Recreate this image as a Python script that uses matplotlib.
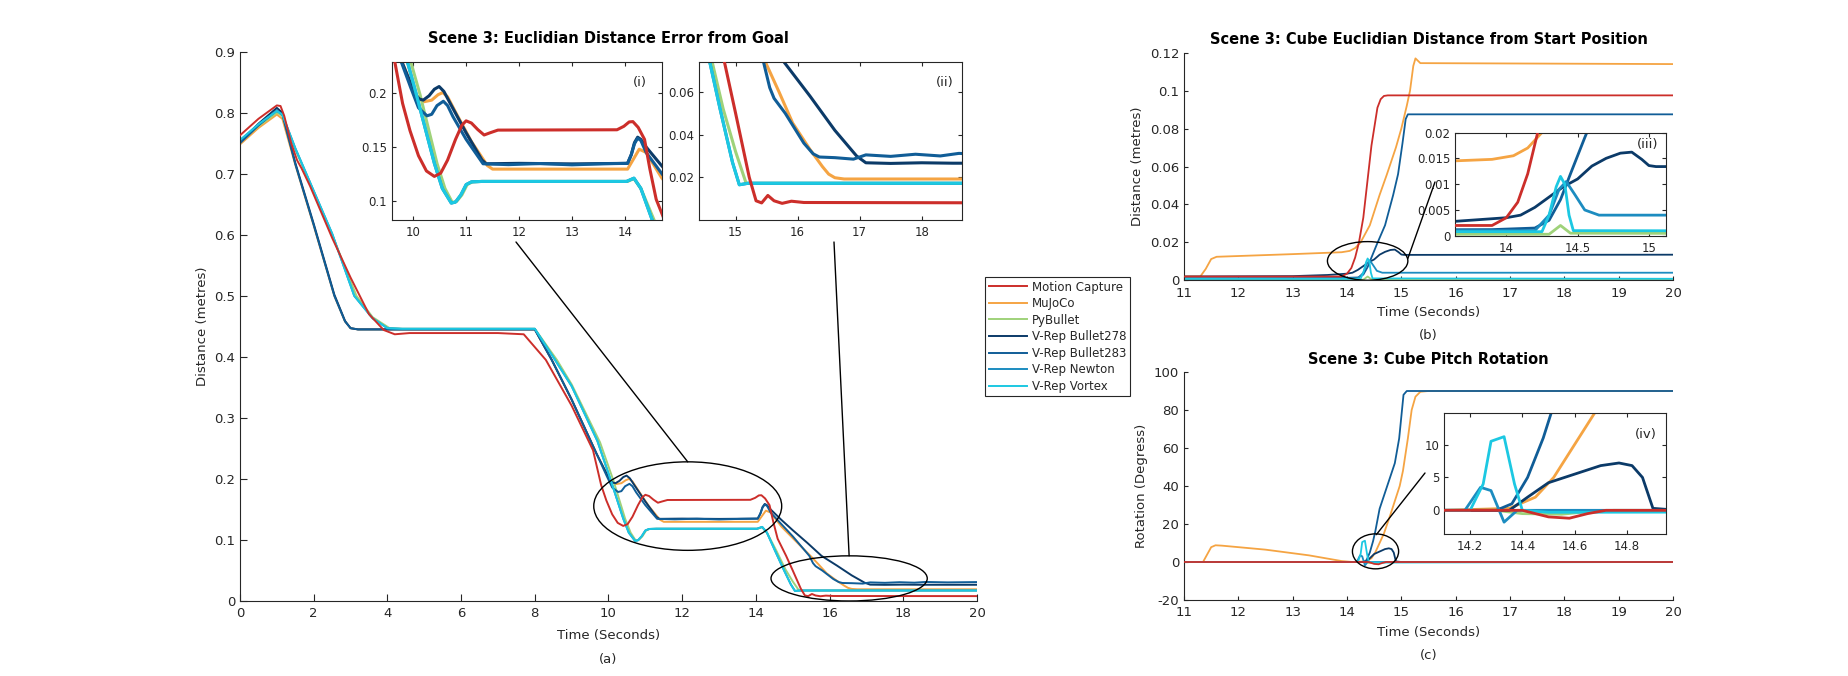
import matplotlib
matplotlib.use('Agg')
import matplotlib.pyplot as plt
from matplotlib.patches import Ellipse, ConnectionPatch

# ---------------- data ----------------
SERIES = ['Motion Capture', 'MuJoCo', 'PyBullet', 'V-Rep Bullet278',
          'V-Rep Bullet283', 'V-Rep Newton', 'V-Rep Vortex']
COLORS = ['#cc2e2a', '#f5a443', '#9fd27a', '#0b3a68', '#105d97', '#1c8cc0', '#1cc8e2']

# (a) Euclidian distance error from goal
MOCAP_A_T = [0, 0.5, 1.0, 1.1, 1.2, 1.39, 1.55, 1.67, 1.9, 2.5, 3.0, 3.5, 3.9, 4.2, 4.6, 7.0, 7.7,
             8.3, 9.0, 9.58, 9.8, 9.94, 10.1, 10.25, 10.4, 10.52, 10.65, 10.8, 10.92, 11.0, 11.1,
             11.22, 11.34, 11.45, 11.6, 13.85, 13.98, 14.08, 14.15, 14.25, 14.37, 14.47, 14.59,
             14.82, 15.0, 15.22, 15.33, 15.42, 15.52, 15.62, 15.75, 15.9, 16.1, 20]
MOCAP_A_V = [0.763, 0.790, 0.812, 0.811, 0.795, 0.750, 0.722, 0.709, 0.680, 0.595, 0.530, 0.470,
             0.444, 0.437, 0.439, 0.439, 0.437, 0.395, 0.320, 0.247, 0.190, 0.165, 0.142, 0.128,
             0.123, 0.126, 0.138, 0.157, 0.170, 0.174, 0.172, 0.166, 0.161, 0.163, 0.1655,
             0.1658, 0.169, 0.173, 0.1733, 0.168, 0.157, 0.130, 0.102, 0.074, 0.050, 0.020,
             0.009, 0.008, 0.0115, 0.009, 0.0078, 0.0088, 0.0082, 0.008]

MUJOCO_A_T = [0, 0.5, 1.0, 1.15, 1.5, 2.0, 2.56, 2.85, 3.0, 3.2, 8.0, 8.46, 9.0, 9.67, 10.04,
              10.2, 10.35, 10.47, 10.56, 10.65, 10.8, 11.1, 11.4, 11.5, 14.05, 14.15, 14.27,
              14.4, 14.69, 15.0, 15.48, 15.7, 15.92, 16.2, 16.4, 16.5, 16.6, 16.75, 20]
MUJOCO_A_V = [0.748, 0.775, 0.797, 0.790, 0.715, 0.615, 0.500, 0.458, 0.447, 0.445, 0.445,
              0.395, 0.330, 0.242, 0.198, 0.1915, 0.193, 0.198, 0.200, 0.196, 0.182, 0.155,
              0.133, 0.1297, 0.1297, 0.138, 0.148, 0.145, 0.122, 0.103, 0.074, 0.060, 0.0454,
              0.033, 0.025, 0.0215, 0.0198, 0.0192, 0.0192]

PYBULLET_A_T = [0, 0.5, 1.0, 1.15, 1.5, 2.0, 2.5, 3.16, 3.6, 4.06, 4.4, 8.0, 8.6, 9.0, 9.77,
                10.13, 10.45, 10.6, 10.74, 10.82, 10.92, 11.02, 11.12, 11.3, 14.05, 14.17, 14.3,
                14.55, 14.8, 15.0, 15.17, 15.3, 20]
PYBULLET_A_V = [0.752, 0.778, 0.800, 0.795, 0.740, 0.670, 0.600, 0.500, 0.465, 0.447, 0.446,
                0.446, 0.395, 0.355, 0.260, 0.198, 0.135, 0.112, 0.099, 0.100, 0.106, 0.1155,
                0.118, 0.1184, 0.1184, 0.121, 0.112, 0.083, 0.052, 0.032, 0.0172, 0.0172, 0.0172]

BULLET278_A_T = [0, 0.5, 1.0, 1.15, 1.5, 2.0, 2.56, 2.85, 3.0, 3.2, 8.0, 8.46, 9.0, 9.67, 10.04,
                 10.12, 10.19, 10.3, 10.4, 10.49, 10.58, 10.7, 11.0, 11.3, 11.38, 12.0, 13.0,
                 14.05, 14.12, 14.18, 14.24, 14.3, 14.4, 14.69, 15.0, 15.4, 15.78, 16.2, 16.6,
                 16.95, 17.1, 17.5, 18.0, 18.5, 20]
BULLET278_A_V = [0.752, 0.782, 0.808, 0.800, 0.718, 0.618, 0.502, 0.459, 0.447, 0.445, 0.445,
                 0.395, 0.330, 0.242, 0.198, 0.194, 0.193, 0.197, 0.203, 0.2055, 0.201, 0.190,
                 0.163, 0.138, 0.1346, 0.135, 0.1345, 0.135, 0.143, 0.154, 0.159, 0.157, 0.150,
                 0.133, 0.116, 0.095, 0.074, 0.058, 0.042, 0.030, 0.0268, 0.0265, 0.0268,
                 0.0266, 0.0266]

BULLET283_A_T = [0, 0.5, 1.0, 1.15, 1.5, 2.0, 2.56, 2.85, 3.0, 3.2, 8.0, 8.46, 9.0, 9.67, 9.95,
                 10.1, 10.26, 10.35, 10.45, 10.57, 10.65, 10.75, 11.0, 11.32, 11.8, 12.4, 13.0,
                 13.6, 14.05, 14.12, 14.18, 14.24, 14.3, 14.4, 14.69, 15.0, 15.45, 15.55, 15.62,
                 15.8, 15.95, 16.1, 16.25, 16.35, 16.6, 16.9, 17.1, 17.5, 17.9, 18.3, 18.6,
                 19.2, 20]
BULLET283_A_V = [0.750, 0.779, 0.804, 0.797, 0.716, 0.616, 0.500, 0.458, 0.447, 0.445, 0.445,
                 0.395, 0.330, 0.242, 0.205, 0.186, 0.1786, 0.180, 0.188, 0.192, 0.188, 0.178,
                 0.157, 0.1346, 0.1338, 0.1348, 0.1336, 0.1346, 0.135, 0.143, 0.153, 0.158,
                 0.156, 0.145, 0.126, 0.106, 0.074, 0.062, 0.057, 0.050, 0.043, 0.036, 0.031,
                 0.0295, 0.0292, 0.0285, 0.0305, 0.0298, 0.0308, 0.0300, 0.0312, 0.0305, 0.031]

VORTEX_A_T = [0, 0.5, 1.0, 1.15, 1.5, 2.0, 2.5, 3.1, 3.6, 4.0, 4.4, 8.0, 8.55, 9.0, 9.7, 10.05,
              10.4, 10.55, 10.72, 10.8, 10.9, 11.0, 11.1, 11.3, 14.03, 14.17, 14.3, 14.5, 14.75,
              14.95, 15.06, 15.2, 20]
VORTEX_A_V = [0.755, 0.781, 0.803, 0.797, 0.742, 0.672, 0.602, 0.500, 0.463, 0.447, 0.446,
              0.446, 0.395, 0.352, 0.262, 0.200, 0.135, 0.112, 0.0985, 0.0995, 0.106, 0.1155,
              0.118, 0.1184, 0.1184, 0.1214, 0.112, 0.085, 0.052, 0.027, 0.0165, 0.0172, 0.0172]
NEWTON_A_T = VORTEX_A_T
NEWTON_A_V = VORTEX_A_V

# (b) cube euclidian distance from start position
MOCAP_B_T = [11, 13.9, 14.0, 14.08, 14.15, 14.22, 14.3, 14.45, 14.56, 14.62, 14.68, 14.75, 20]
MOCAP_B_V = [0.002, 0.002, 0.0035, 0.0065, 0.012, 0.020, 0.033, 0.071, 0.091, 0.0955, 0.0972,
             0.0975, 0.0975]
MUJOCO_B_T = [11, 11.3, 11.4, 11.5, 11.6, 12, 13, 13.9, 14.05, 14.15, 14.25, 14.42, 14.6, 14.73,
              14.9, 15.0, 15.1, 15.16, 15.22, 15.26, 15.35, 20]
MUJOCO_B_V = [0.002, 0.002, 0.006, 0.0112, 0.0124, 0.0128, 0.0138, 0.0148, 0.0155, 0.017, 0.020,
              0.029, 0.045, 0.0555, 0.070, 0.080, 0.092, 0.100, 0.113, 0.117, 0.1145, 0.114]
PYBULLET_B_T = [11, 14.3, 14.38, 14.45, 20]
PYBULLET_B_V = [0.0003, 0.0003, 0.002, 0.0005, 0.0003]
BULLET278_B_T = [11, 13.0, 13.64, 14.0, 14.1, 14.2, 14.3, 14.4, 14.5, 14.6, 14.7, 14.8, 14.88,
                 14.95, 15.0, 15.05, 20]
BULLET278_B_V = [0.002, 0.0022, 0.0028, 0.0035, 0.004, 0.0055, 0.0075, 0.0095, 0.011, 0.0135,
                 0.015, 0.016, 0.0162, 0.0148, 0.0136, 0.0134, 0.0135]
BULLET283_B_T = [11, 13.9, 14.2, 14.3, 14.38, 14.45, 14.55, 14.7, 14.85, 14.94, 15.02, 15.08,
                 15.12, 20]
BULLET283_B_V = [0.001, 0.0012, 0.0015, 0.003, 0.007, 0.012, 0.019, 0.029, 0.045, 0.056, 0.072,
                 0.085, 0.0875, 0.0875]
NEWTON_B_T = [11, 14.2, 14.3, 14.37, 14.42, 14.48, 14.55, 14.65, 20]
NEWTON_B_V = [0.001, 0.001, 0.004, 0.009, 0.0105, 0.008, 0.005, 0.004, 0.004]
VORTEX_B_T = [11, 14.25, 14.3, 14.35, 14.38, 14.41, 14.44, 14.47, 20]
VORTEX_B_V = [0.0008, 0.0008, 0.004, 0.0095, 0.0115, 0.010, 0.004, 0.001, 0.0008]

# (c) cube pitch rotation
MOCAP_C_T = [11, 14.4, 14.45, 14.5, 14.58, 14.65, 14.72, 20]
MOCAP_C_V = [0, 0, -0.5, -1.0, -1.2, -0.5, 0, 0]
MUJOCO_C_T = [11, 11.35, 11.5, 11.58, 11.7, 12.5, 13.3, 13.9, 14.1, 14.35, 14.45, 14.52, 14.6,
              14.68, 14.8, 14.97, 15.03, 15.12, 15.19, 15.26, 15.35, 15.5, 20]
MUJOCO_C_V = [0, 0, 7.8, 8.8, 8.6, 6.5, 3.5, 0.5, 0, 0.3, 2, 5, 10, 15, 25, 40, 48, 65, 80, 87,
              89.6, 90, 90]
PYBULLET_C_T = [11, 14.3, 14.4, 14.55, 14.65, 14.75, 20]
PYBULLET_C_V = [0, 0, -0.5, -0.6, -0.2, 0, 0]
BULLET278_C_T = [11, 14.35, 14.42, 14.5, 14.6, 14.7, 14.77, 14.82, 14.86, 14.9, 15.0, 20]
BULLET278_C_V = [0, 0, 2, 4.2, 5.5, 6.8, 7.2, 6.8, 5, 0.3, 0, 0]
BULLET283_C_T = [11, 14.3, 14.36, 14.42, 14.48, 14.52, 14.6, 14.74, 14.88, 14.96, 15.04, 15.1, 20]
BULLET283_C_V = [0, 0, 1, 5, 11, 16, 28, 40, 52, 65, 88, 90, 90]
NEWTON_C_T = [11, 14.18, 14.24, 14.28, 14.33, 14.38, 20]
NEWTON_C_V = [0, 0, 3.5, 3.0, -1.8, 0, 0]
VORTEX_C_T = [11, 14.2, 14.25, 14.28, 14.33, 14.37, 14.4, 14.5, 20]
VORTEX_C_V = [0, 0, 4, 10.5, 11.2, 4, 0, -0.3, 0]

A_DATA = [(MOCAP_A_T, MOCAP_A_V), (MUJOCO_A_T, MUJOCO_A_V), (PYBULLET_A_T, PYBULLET_A_V),
          (BULLET278_A_T, BULLET278_A_V), (BULLET283_A_T, BULLET283_A_V),
          (NEWTON_A_T, NEWTON_A_V), (VORTEX_A_T, VORTEX_A_V)]
B_DATA = [(MOCAP_B_T, MOCAP_B_V), (MUJOCO_B_T, MUJOCO_B_V), (PYBULLET_B_T, PYBULLET_B_V),
          (BULLET278_B_T, BULLET278_B_V), (BULLET283_B_T, BULLET283_B_V),
          (NEWTON_B_T, NEWTON_B_V), (VORTEX_B_T, VORTEX_B_V)]
C_DATA = [(MOCAP_C_T, MOCAP_C_V), (MUJOCO_C_T, MUJOCO_C_V), (PYBULLET_C_T, PYBULLET_C_V),
          (BULLET278_C_T, BULLET278_C_V), (BULLET283_C_T, BULLET283_C_V),
          (NEWTON_C_T, NEWTON_C_V), (VORTEX_C_T, VORTEX_C_V)]

# ---------------- layout ----------------
W, H = 1849, 676
TXT = '#262626'
plt.rcParams['font.family'] = ['DejaVu Sans']
fig = plt.figure(figsize=(W / 100, H / 100), dpi=100)


def box(x0, y0, x1, y1):
    return [x0 / W, 1 - y1 / H, (x1 - x0) / W, (y1 - y0) / H]


def fmt(v):
    return f'{v:g}'


def style(ax, xt, yt, fs, tl, boxed):
    ax.set_xticks(xt)
    ax.set_xticklabels([fmt(v) for v in xt])
    ax.set_yticks(yt)
    ax.set_yticklabels([fmt(v) for v in yt])
    ax.tick_params(direction='in', length=tl, width=0.8, labelsize=fs, colors=TXT,
                   top=boxed, right=boxed)
    ax.tick_params(axis='x', pad=4.5)
    ax.tick_params(axis='y', pad=3.5)
    for s in ax.spines.values():
        s.set_color(TXT)
        s.set_linewidth(0.8)
    if not boxed:
        ax.spines['top'].set_visible(False)
        ax.spines['right'].set_visible(False)


def draw(ax, data, lw):
    lines = []
    for i, ((t, v), c, name) in enumerate(zip(data, COLORS, SERIES)):
        ln, = ax.plot(t, v, color=c, lw=lw, label=name, solid_joinstyle='round',
                      zorder=3 if i == 0 else 2)
        lines.append(ln)
    return lines


def ellipse(ax, xl, yl):
    ax.add_patch(Ellipse(((xl[0] + xl[1]) / 2, (yl[0] + yl[1]) / 2), xl[1] - xl[0],
                         yl[1] - yl[0], fill=False, ec='black', lw=1.0, zorder=5))


def connector(ax, xy, px):
    fig.add_artist(ConnectionPatch(xyA=xy, coordsA='data', axesA=ax,
                                   xyB=(px[0], H - px[1]), coordsB='figure pixels',
                                   color='black', lw=1.0))


TITLE_FS = 10.5
LAB_FS = 9.5
TICK_FS = 9.5
INS_FS = 8.5

# (a)
ax_a = fig.add_axes(box(240, 51.7, 977, 601))
handles = draw(ax_a, A_DATA, 1.4)
ax_a.set_xlim(0, 20)
ax_a.set_ylim(0, 0.9)
style(ax_a, list(range(0, 21, 2)), [round(0.1 * i, 1) for i in range(10)], TICK_FS, 5, False)
ax_a.set_xlabel('Time (Seconds)', fontsize=LAB_FS, color=TXT, labelpad=6)
ax_a.set_ylabel('Distance (metres)', fontsize=LAB_FS, color=TXT)
ax_a.set_title('Scene 3: Euclidian Distance Error from Goal', fontsize=TITLE_FS,
               fontweight='bold', color='black')

XL1, YL1 = (9.6, 14.7), (0.083, 0.228)
XL2, YL2 = (14.41, 18.65), (0.0, 0.074)
ellipse(ax_a, XL1, YL1)
ellipse(ax_a, XL2, YL2)

ins1 = fig.add_axes(box(392, 62, 662, 220))
draw(ins1, A_DATA, 2.2)
ins1.set_xlim(*XL1)
ins1.set_ylim(*YL1)
style(ins1, [10, 11, 12, 13, 14], [0.1, 0.15, 0.2], INS_FS, 3, True)
ins1.text(0.945, 0.87, '(i)', transform=ins1.transAxes, ha='right', va='center',
          fontsize=9.5, color=TXT)

ins2 = fig.add_axes(box(699, 62, 962, 220))
draw(ins2, A_DATA, 2.2)
ins2.set_xlim(*XL2)
ins2.set_ylim(*YL2)
style(ins2, [15, 16, 17, 18], [0.02, 0.04, 0.06], INS_FS, 3, True)
ins2.text(0.97, 0.87, '(ii)', transform=ins2.transAxes, ha='right', va='center',
          fontsize=9.5, color=TXT)

connector(ax_a, (12.15, 0.228), (516, 242))
connector(ax_a, (16.53, 0.074), (834, 242))
fig.text(608.5 / W, 1 - 659 / H, '(a)', ha='center', va='center', fontsize=LAB_FS, color=TXT)

# (b)
ax_b = fig.add_axes(box(1184, 52.7, 1673, 280.3))
draw(ax_b, B_DATA, 1.3)
ax_b.set_xlim(11, 20)
ax_b.set_ylim(0, 0.12)
style(ax_b, list(range(11, 21)), [0, 0.02, 0.04, 0.06, 0.08, 0.1, 0.12], TICK_FS, 3, False)
ax_b.set_xlabel('Time (Seconds)', fontsize=LAB_FS, color=TXT, labelpad=5)
ax_b.set_ylabel('Distance (metres)', fontsize=LAB_FS, color=TXT)
ax_b.set_title('Scene 3: Cube Euclidian Distance from Start Position', fontsize=TITLE_FS,
               fontweight='bold', color='black')
XL3, YL3 = (13.64, 15.12), (0.0, 0.0204)
ellipse(ax_b, XL3, YL3)
ins3 = fig.add_axes(box(1455, 132.5, 1666, 235.8))
draw(ins3, B_DATA, 2.0)
ins3.set_xlim(*XL3)
ins3.set_ylim(0, 0.02)
style(ins3, [14, 14.5, 15], [0, 0.005, 0.01, 0.015, 0.02], INS_FS, 3, True)
ins3.text(0.965, 0.885, '(iii)', transform=ins3.transAxes, ha='right', va='center',
          fontsize=9.5, color=TXT)
connector(ax_b, (15.12, 0.0115), (1435, 182))
fig.text(1428.5 / W, 1 - 336 / H, '(b)', ha='center', va='center', fontsize=LAB_FS, color=TXT)

# (c)
ax_c = fig.add_axes(box(1184, 372, 1673, 600))
draw(ax_c, C_DATA, 1.3)
ax_c.set_xlim(11, 20)
ax_c.set_ylim(-20, 100)
style(ax_c, list(range(11, 21)), [-20, 0, 20, 40, 60, 80, 100], TICK_FS, 3, False)
ax_c.set_xlabel('Time (Seconds)', fontsize=LAB_FS, color=TXT, labelpad=5)
ax_c.set_ylabel('Rotation (Degress)', fontsize=LAB_FS, color=TXT)
ax_c.set_title('Scene 3: Cube Pitch Rotation', fontsize=TITLE_FS, fontweight='bold',
               color='black')
XL4, YL4 = (14.1, 14.95), (-3.6, 14.8)
ellipse(ax_c, XL4, YL4)
ins4 = fig.add_axes(box(1444, 413, 1666, 534))
draw(ins4, C_DATA, 2.0)
ins4.set_xlim(*XL4)
ins4.set_ylim(*YL4)
style(ins4, [14.2, 14.4, 14.6, 14.8], [0, 5, 10], INS_FS, 3, True)
ins4.text(0.96, 0.82, '(iv)', transform=ins4.transAxes, ha='right', va='center',
          fontsize=9.5, color=TXT)
connector(ax_c, (14.54, 14.4), (1425, 473))
fig.text(1428.5 / W, 1 - 656 / H, '(c)', ha='center', va='center', fontsize=LAB_FS, color=TXT)

# legend
leg = fig.legend(handles, SERIES, loc='upper left', bbox_to_anchor=(985 / W, 1 - 277 / H),
                 fontsize=8.5, frameon=True, fancybox=False, edgecolor=TXT, framealpha=1,
                 handlelength=3.3, labelspacing=0.3, borderpad=0.3, handletextpad=0.4,
                 borderaxespad=0)
leg.get_frame().set_linewidth(0.8)
for t in leg.get_texts():
    t.set_color(TXT)

fig.savefig('out.png', dpi=100)
